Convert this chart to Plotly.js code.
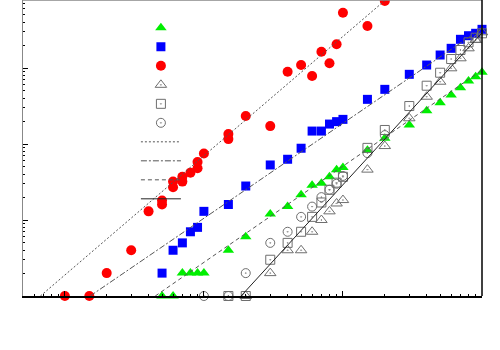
<!DOCTYPE html>
<html>
<head>
<meta charset="utf-8">
<script src="https://cdn.plot.ly/plotly-3.0.1.min.js"></script>
<style>
  html, body { margin:0; padding:0; background:#fff; }
  #plot { width:500px; height:350px; }
</style>
</head>
<body>
<div id="plot"></div>
<script>
// values (no tick labels in the original)
const greenX = [5, 6, 7, 8, 9, 10, 15, 20, 30, 40, 50, 60, 70, 80, 90, 100, 150, 200, 300, 400, 500, 600, 700, 800, 900, 1000];
const greenY = [1, 1, 2, 2, 2, 2, 4, 6, 12, 15, 21.5, 28.6, 30.4, 37, 46, 49, 83, 119, 178, 274, 349, 441, 550, 674, 769, 877];

const blueX = [5, 6, 7, 8, 9, 10, 15, 20, 30, 40, 50, 60, 70, 80, 90, 100, 150, 200, 300, 400, 500, 600, 700, 800, 900, 1000];
const blueY = [2, 4, 5, 7, 8, 13, 16, 28, 53, 63, 88, 148, 148, 183, 197, 211, 387, 524, 826, 1095, 1483, 1816, 2386, 2662, 2863, 3230];

const redX = [1, 1.5, 2, 3, 4, 5, 5, 6, 6, 7, 7, 8, 9, 9, 10, 15, 15, 20, 30, 40, 50, 60, 70, 80, 90, 100, 150, 200];
const redY = [1, 1, 2, 4, 13, 16, 18, 27, 32, 32, 37, 42, 48, 58, 75, 116, 135, 234, 172, 894, 1094, 785, 1638, 1153, 2051, 5340, 3570, 7620];

const triX = [20, 30, 40, 50, 60, 70, 80, 90, 100, 150, 200, 300, 400, 500, 600, 700, 800, 900, 1000];
const triY = [1, 2, 4, 4, 7, 10, 13, 16.5, 18.3, 46, 94, 218, 419, 660, 991, 1342, 1816, 2335, 2950];

const sqX = [15, 20, 30, 40, 50, 60, 70, 80, 90, 100, 150, 200, 300, 400, 500, 600, 700, 800, 900, 1000];
const sqY = [1, 1, 3, 5, 7, 11, 17, 25, 31, 37, 89, 153, 316, 585, 867, 1313, 1726, 2178, 2505, 2862];

const circX = [10, 15, 20, 30, 40, 50, 60, 70, 80, 90, 100, 150, 200];
const circY = [1, 1, 2, 5, 7, 11, 15, 20, 25, 30, 38, 76, 131];

// fitted power-law lines, end points only
const fitRedX = [0.667, 202], fitRedY = [1, 7850];
const fitBlueX = [1.52, 1000], fitBlueY = [1, 3330];
const fitGreenX = [4.47, 1000], fitGreenY = [1, 941];
const fitOpenX = [18.5, 1000], fitOpenY = [1, 2900];

const grayMk = '#6e6e6e';
const lineCol = '#555';

function pts(x, y, symbol, color, size, open){
  return {
    x: x, y: y, type: 'scatter', mode: 'markers', name: '', cliponaxis: false,
    marker: open
      ? {symbol: symbol, size: size, color: color, line: {width: 1, color: color}}
      : {symbol: symbol, size: size, color: color, line: {width: 0}}
  };
}
function fit(x, y, dash, color, width){
  return {x: x, y: y, type: 'scatter', mode: 'lines', name: '', cliponaxis: true,
    line: {color: color, width: width, dash: dash}};
}

const traces = [
  pts(greenX, greenY, 'triangle-up', '#00ee00', 10, false),
  pts(blueX, blueY, 'square', '#0000ff', 9, false),
  pts(redX, redY, 'circle', '#ff0000', 10, false),
  pts(triX, triY, 'triangle-up-open-dot', grayMk, 10, true),
  pts(sqX, sqY, 'square-open-dot', grayMk, 9, true),
  pts(circX, circY, 'circle-open-dot', grayMk, 9, true),
  fit(fitRedX, fitRedY, '2px,2px', lineCol, 1),
  fit(fitBlueX, fitBlueY, '6px,2px,2px,2px', lineCol, 1),
  fit(fitGreenX, fitGreenY, '4px,3px', lineCol, 1),
  fit(fitOpenX, fitOpenY, 'solid', '#222', 1)
];

const axisCommon = {
  type: 'log', showgrid: false, zeroline: false, showticklabels: false,
  showline: true, ticks: 'inside', ticklen: 5, tickcolor: '#000', dtick: 1,
  minor: {ticks: 'inside', ticklen: 2, tickcolor: '#000', dtick: 'D1'}
};

const layout = {
  width: 500, height: 350,
  margin: {l: 23, r: 18, t: 0, b: 54},
  paper_bgcolor: '#fff', plot_bgcolor: '#fff',
  xaxis: Object.assign({}, axisCommon, {range: [Math.log10(0.5), 3], linecolor: '#000', linewidth: 1.5}),
  yaxis: Object.assign({}, axisCommon, {range: [0, 3.895], linecolor: '#888', linewidth: 1.5}),
  showlegend: true,
  legend: {x: 0.246, y: 0.955, xanchor: 'left', yanchor: 'top', bgcolor: 'rgba(0,0,0,0)',
    itemwidth: 40, font: {size: 10}, traceorder: 'normal'},
  shapes: [
    {type: 'line', xref: 'paper', yref: 'paper', x0: 0, x1: 1, y0: 1, y1: 1, line: {color: '#888', width: 1.5}},
    {type: 'line', xref: 'paper', yref: 'paper', x0: 1, x1: 1, y0: 0, y1: 1, line: {color: '#000', width: 1.5}}
  ]
};

Plotly.newPlot('plot', traces, layout, {displayModeBar: false, staticPlot: true});
</script>
</body>
</html>
